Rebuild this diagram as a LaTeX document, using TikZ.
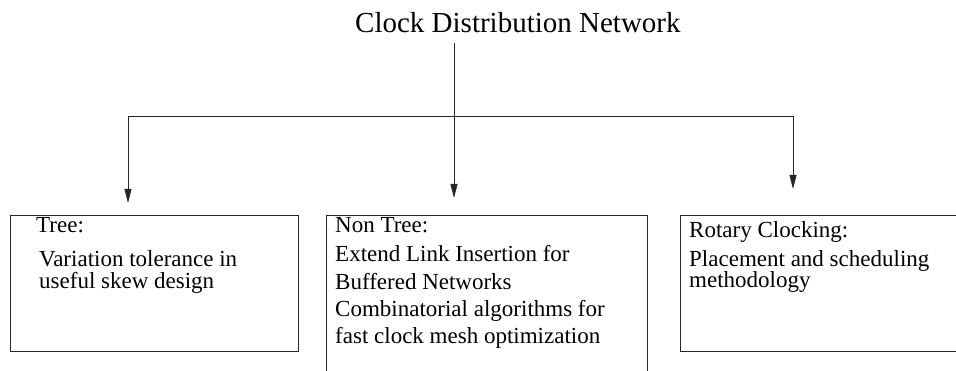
\documentclass[tikz,border=0pt]{standalone}
\usepackage{fontspec}
\setmainfont{Liberation Serif}
\usetikzlibrary{arrows.meta}
\begin{document}
\begin{tikzpicture}[x=1pt,y=-1pt,
  panel/.style={draw=black!85, line width=0.9pt, anchor=north west, inner sep=0pt},
  heading/.style={anchor=base west, inner sep=0pt, font=\fontsize{29}{35}\selectfont},
  body/.style={anchor=base west, inner sep=0pt, font=\fontsize{23}{27}\selectfont},
  link/.style={draw=black!85, line width=0.9pt},
  arr/.style={link, -{Triangle[length=14pt,width=7pt]}}]
\useasboundingbox (0,0) rectangle (956,371);
\clip (0,0) rectangle (956,371);

% title
\node[heading] (title) at (355,33) {Clock Distribution Network};

% the three categories (middle and right panels run past the page edge)
\node[panel, minimum width=288pt, minimum height=136pt] (tree) at (10,215) {};
\node[panel, minimum width=321pt, minimum height=200pt] (nontree) at (326,215) {};
\node[panel, minimum width=320pt, minimum height=136pt] (rotary) at (680,215) {};

% panel texts
\node[body] (t1) at (36,233) {Tree:};
\node[body] (t2) at (39,267) {Variation tolerance in};
\node[body] (t3) at (39,289) {useful skew design};

\node[body] (n1) at (335,233) {Non Tree:};
\node[body] (n2) at (335,262) {Extend Link Insertion for};
\node[body] (n3) at (335,290) {Buffered Networks};
\node[body] (n4) at (335,317) {Combinatorial algorithms for};
\node[body] (n5) at (335,344) {fast clock mesh optimization};

\node[body] (r1) at (689,238) {Rotary Clocking:};
\node[body] (r2) at (689,267) {Placement and scheduling};
\node[body] (r3) at (689,288) {methodology};

% distribution lines
\coordinate (src)  at (454,43);
\coordinate (barL) at (128,116);
\coordinate (barR) at (793,116);
\coordinate (tipL) at (128,203);
\coordinate (tipM) at (454,198);
\coordinate (tipR) at (793,189);

\draw[link] (barL) -- (barR);
\draw[arr] (src) -- (tipM);
\draw[arr] (barL) -- (tipL);
\draw[arr] (barR) -- (tipR);
\end{tikzpicture}
\end{document}
